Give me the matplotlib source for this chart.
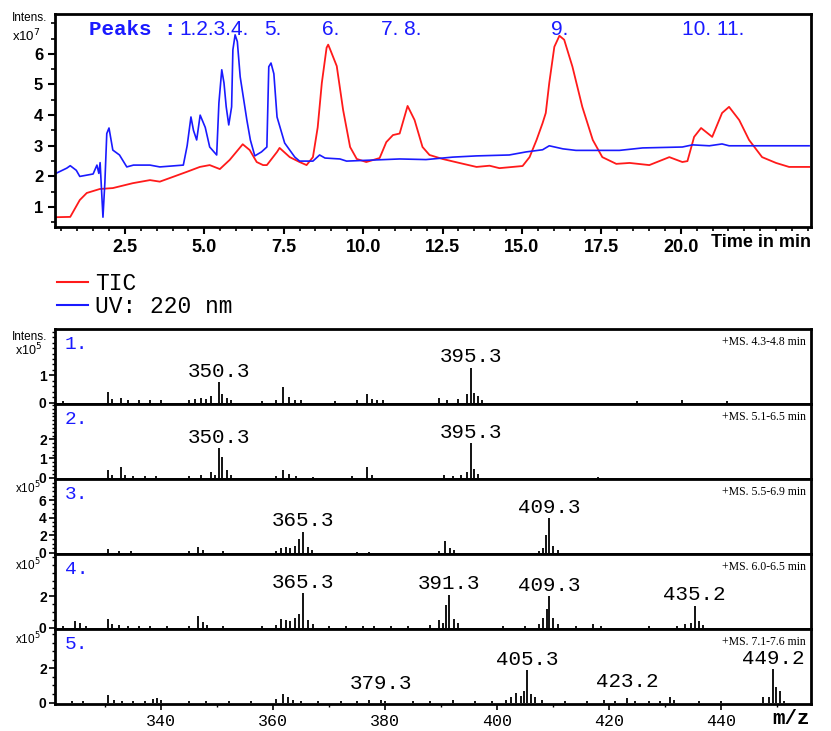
import matplotlib
matplotlib.use('Agg')
import matplotlib.pyplot as plt
from matplotlib.lines import Line2D
from matplotlib.ticker import MultipleLocator
import numpy as np

# chromatogram traces (time in min, intensity x10^7)
tic_time = [0.35, 0.78, 1.08, 1.30, 1.71, 2.12, 2.75, 3.29, 3.60, 4.00, 4.45, 4.86, 5.17, 5.49,
            5.80, 6.21, 6.43, 6.65, 6.85, 6.97, 7.29, 7.37, 7.69, 8.00, 8.22, 8.42, 8.57, 8.70,
            8.85, 8.90, 8.96, 9.17, 9.37, 9.59, 9.80, 10.10, 10.52, 10.73, 10.94, 11.15, 11.40,
            11.62, 11.87, 12.09, 12.50, 13.03, 13.57, 13.98, 14.29, 15.02, 15.24, 15.46, 15.65,
            15.75, 15.86, 16.02, 16.18, 16.33, 16.59, 16.90, 17.23, 17.53, 17.97, 18.39, 19.01,
            19.64, 20.05, 20.21, 20.42, 20.64, 20.99, 21.30, 21.52, 21.84, 22.15, 22.56, 23.00,
            23.41, 24.04]
tic_int = [0.67, 0.68, 1.23, 1.46, 1.59, 1.62, 1.78, 1.88, 1.83, 1.98, 2.15, 2.31, 2.37, 2.24,
           2.54, 3.05, 2.86, 2.47, 2.37, 2.37, 2.80, 2.93, 2.63, 2.47, 2.37, 2.63, 3.60, 5.05,
           6.20, 6.30, 6.15, 5.60, 4.17, 2.96, 2.57, 2.47, 2.60, 3.12, 3.35, 3.40, 4.30,
           3.84, 2.96, 2.70, 2.57, 2.44, 2.31, 2.35, 2.27, 2.34, 2.63, 3.19, 3.74,
           4.07, 5.05, 6.23, 6.59, 6.46, 5.58, 4.27, 3.19, 2.63, 2.41, 2.44, 2.37,
           2.63, 2.47, 2.50, 3.29, 3.58, 3.29, 4.07, 4.27, 3.84, 3.19, 2.63, 2.44,
           2.31, 2.31]

uv_time = [0.35, 0.67, 0.78, 0.97, 1.08, 1.50, 1.62, 1.68, 1.72, 1.81, 1.87, 1.93, 2.00, 2.12,
           2.33, 2.56, 2.77, 3.29, 3.60, 4.34, 4.46, 4.58, 4.66, 4.76, 4.87, 5.03, 5.17, 5.39,
           5.46, 5.55, 5.62, 5.69, 5.77, 5.86, 5.90, 5.97, 6.04, 6.13, 6.34, 6.45, 6.59, 6.80,
           6.97, 7.03, 7.10, 7.19, 7.29, 7.53, 7.85, 8.00, 8.42, 8.63, 8.80, 9.27, 9.48, 11.15,
           11.98, 12.82, 13.57, 14.60, 15.13, 15.65, 15.86, 16.29, 16.70, 18.07, 18.80, 20.05,
           20.37, 20.90, 21.30, 21.52, 24.04]
uv_int = [2.11, 2.27, 2.35, 2.20, 2.00, 2.08, 2.37, 2.10, 2.45, 0.67, 1.80, 3.40, 3.58, 2.86,
          2.70, 2.31, 2.37, 2.37, 2.31, 2.37, 3.00, 3.94, 3.50, 3.19, 4.00, 3.60, 2.96, 2.70,
          4.40, 5.48, 5.05, 4.27, 3.68, 4.27, 6.13, 6.62, 6.40, 5.25, 3.84, 3.19, 2.67, 2.80,
          2.96, 5.58, 5.70, 5.35, 3.94, 3.09, 2.63, 2.50, 2.50, 2.70, 2.60, 2.57, 2.50, 2.57,
          2.55, 2.63, 2.67, 2.70, 2.80, 2.87, 3.00, 2.90, 2.85, 2.85, 2.93, 2.96,
          3.03, 3.00, 3.06, 3.00, 3.00]

peak_names = ["1.2.3.4.", "5.", "6.", "7. 8.", "9.", "10. 11."]
peak_name_time = [4.23, 6.9, 8.7, 10.55, 15.93, 20.05]

# mass spectra (m/z, intensity x10^5)
mz_1 = [322.5, 330.4, 331.2, 332.7, 334, 336, 338, 340, 345, 346, 347, 348, 348.9, 350.3, 350.8,
        351.7, 352.5, 358, 360.5, 361.8, 362.8, 363.8, 365, 371, 375, 376.8, 377.6, 378.5, 379.5,
        389.5, 391, 393, 394.5, 395.3, 395.8, 396.5, 397.3, 425, 433, 441]
int_1 = [0.05, 0.38, 0.12, 0.18, 0.08, 0.08, 0.08, 0.08, 0.1, 0.12, 0.15, 0.12, 0.25, 0.75, 0.3,
         0.15, 0.08, 0.05, 0.1, 0.57, 0.2, 0.1, 0.08, 0.05, 0.08, 0.3, 0.12, 0.1, 0.08,
         0.15, 0.1, 0.12, 0.3, 1.28, 0.35, 0.25, 0.1, 0.05, 0.08, 0.05]

mz_2 = [330.4, 331.2, 332.7, 333.5, 335, 337, 339, 345, 347, 348.9, 349.6, 350.3, 350.9, 351.7,
        352.5, 360.5, 361.8, 362.8, 364, 367, 374, 376.8, 377.6, 390.5, 392, 393.5, 394.5, 395.3,
        395.9, 396.6, 418]
int_2 = [0.38, 0.15, 0.55, 0.12, 0.08, 0.08, 0.08, 0.08, 0.12, 0.3, 0.15, 1.55, 1.05, 0.4,
         0.15, 0.1, 0.4, 0.2, 0.08, 0.05, 0.08, 0.55, 0.15, 0.15, 0.1, 0.12, 0.3, 1.8,
         0.45, 0.2, 0.05]

mz_3 = [330.4, 332.5, 334.5, 345, 346.6, 347.4, 351, 360.5, 361.4, 362.2, 363, 363.8, 364.5,
        365.3, 366.1, 366.9, 375, 377, 389.5, 390.7, 391.5, 392.3, 407.5, 408.2, 408.7, 409.3,
        410, 410.8]
int_3 = [0.35, 0.15, 0.15, 0.15, 0.6, 0.3, 0.15, 0.2, 0.5, 0.6, 0.5, 0.7, 1.5,
         2.4, 0.6, 0.3, 0.1, 0.1, 0.15, 1.3, 0.5, 0.3, 0.2, 0.5, 2.0, 3.9,
         0.8, 0.3]

mz_4 = [322.5, 324.6, 325.4, 326.5, 330.4, 331.2, 332.5, 334, 336, 338, 341, 345, 346.6, 347.4,
        348.2, 351, 358, 360.5, 361.4, 362.2, 363, 363.8, 364.5, 365.3, 366.1, 367, 370, 373,
        376, 378, 381, 384, 388, 389.5, 390.3, 390.8, 391.3, 392.2, 393, 401, 405, 407.5,
        408.2, 408.8, 409.3, 410, 410.8, 414, 417, 418.5, 427, 432, 433.5, 434.5, 435.2, 436,
        436.8]
int_4 = [0.1, 0.4, 0.3, 0.1, 0.55, 0.2, 0.15, 0.1, 0.1, 0.1, 0.1, 0.1, 0.75, 0.35,
         0.15, 0.1, 0.1, 0.15, 0.55, 0.5, 0.4, 0.6, 0.85, 2.2, 0.5, 0.2, 0.08, 0.08,
         0.08, 0.08, 0.1, 0.08, 0.15, 0.5, 0.3, 1.45, 2.1, 0.55, 0.3, 0.08, 0.1, 0.2,
         0.6, 1.2, 2.0, 0.6, 0.2, 0.1, 0.2, 0.1, 0.08, 0.1, 0.2, 0.3, 1.4, 0.4,
         0.15]

mz_5 = [324, 326, 330.4, 331.5, 333, 335, 337, 338.5, 339.3, 340, 345, 348, 352, 356, 360.5,
        361.8, 362.6, 363.5, 365, 368, 372, 375, 377, 379.3, 380, 385, 388, 392, 396, 399,
        401.5, 402.5, 403.3, 404.2, 404.8, 405.3, 406, 406.8, 408, 412, 416, 419, 421, 423.2,
        424.5, 427, 429, 430.8, 431.5, 436, 440, 447.5, 448.5, 449.2, 449.8, 450.4, 451.2]
int_5 = [0.1, 0.08, 0.45, 0.15, 0.1, 0.1, 0.08, 0.2, 0.25, 0.12, 0.08, 0.08, 0.08, 0.08, 0.2,
         0.5, 0.3, 0.15, 0.1, 0.08, 0.08, 0.08, 0.15, 0.12, 0.1, 0.08, 0.08, 0.12, 0.1, 0.08,
         0.15, 0.3, 0.55, 0.4, 0.7, 1.9, 0.5, 0.3, 0.15, 0.08, 0.08, 0.15, 0.1, 0.25,
         0.1, 0.08, 0.1, 0.3, 0.15, 0.08, 0.08, 0.3, 0.35, 1.95, 0.9, 0.7, 0.1]

labels_1 = [350.3, 395.3]
labels_2 = [350.3, 395.3]
labels_3 = [365.3, 409.3]
labels_4 = [365.3, 391.3, 409.3, 435.2]
labels_5 = [379.3, 405.3, 423.2, 449.2]

scan_ranges = ["+MS. 4.3-4.8 min", "+MS. 5.1-6.5 min", "+MS. 5.5-6.9 min",
               "+MS. 6.0-6.5 min", "+MS. 7.1-7.6 min"]
mz_ticks = [340, 360, 380, 400, 420, 440]

BLUE = '#1a1aff'
RED = '#ff1a1a'
MONO = 'Liberation Mono'
SANS = 'Liberation Sans'
W, H = 831, 731

fig = plt.figure(figsize=(W / 100, H / 100), dpi=100)

# ---- chromatogram ----
ax = fig.add_axes([55 / W, 1 - 227 / H, 756 / W, 213 / H])
ax.plot(tic_time, tic_int, color=RED, lw=1.3)
ax.plot(uv_time, uv_int, color=BLUE, lw=1.2)
ax.set_xlim(0.3, 24.1)
ax.set_ylim(0.35, 7.3)
ax.set_xticks([2.5, 5.0, 7.5, 10.0, 12.5, 15.0, 17.5, 20.0])
ax.set_xticklabels(["2.5", "5.0", "7.5", "10.0", "12.5", "15.0", "17.5", "20.0"])
ax.xaxis.set_minor_locator(MultipleLocator(0.5))
ax.set_yticks([1, 2, 3, 4, 5, 6])
ax.yaxis.set_minor_locator(MultipleLocator(0.5))
ax.tick_params(axis='both', which='major', length=5, width=1.5)
ax.tick_params(axis='both', which='minor', length=3, width=1.2)
ax.tick_params(axis='x', labelsize=13)
ax.tick_params(axis='y', labelsize=12)
for lab in ax.get_xticklabels() + ax.get_yticklabels():
    lab.set_fontweight('bold')
    lab.set_fontfamily(SANS)
for sp in ax.spines.values():
    sp.set_linewidth(2)
ax.text(20.95, -0.075, "Time in min", transform=ax.get_xaxis_transform(),
        ha='left', va='center', fontsize=13, fontweight='bold', fontfamily=SANS)
ax.text(1.37, 0.925, "Peaks :", transform=ax.get_xaxis_transform(), ha='left', va='center',
        color=BLUE, fontsize=15, fontweight='bold', fontfamily=MONO)
for name, t in zip(peak_names, peak_name_time):
    ax.text(t, 0.925, name, transform=ax.get_xaxis_transform(), ha='left', va='center',
            color=BLUE, fontsize=15, fontfamily=SANS)
fig.text(12 / W, 1 - 18 / H, "Intens.", fontsize=8.5, fontfamily=SANS, va='center')
fig.text(12 / W, 1 - 36 / H, "x10$^7$", fontsize=9.5, fontfamily=SANS, va='center')

handles = [Line2D([], [], color=RED, lw=1.5), Line2D([], [], color=BLUE, lw=1.5)]
fig.legend(handles, ["TIC", "UV: 220 nm"], loc='upper left',
           bbox_to_anchor=(57 / W, 1 - 272 / H), frameon=False, handlelength=1.35,
           handletextpad=0.3, labelspacing=0.0, borderpad=0, borderaxespad=0,
           prop={'family': MONO, 'size': 16.5})

# ---- mass spectra ----
spectra = [(mz_1, int_1, labels_1), (mz_2, int_2, labels_2), (mz_3, int_3, labels_3),
           (mz_4, int_4, labels_4), (mz_5, int_5, labels_5)]
ymax = [2.7, 3.85, 8.4, 4.7, 4.3]
yticks = [[0, 1], [0, 1, 2], [0, 2, 4, 6], [0, 2], [0, 2]]
yminor = [0.2, 0.2, 0.5, 0.5, 0.5]
label_floor = {379.3: 0.45, 423.2: 0.6}

for i, (mz, inten, labels) in enumerate(spectra):
    top = 329 + 75 * i
    sax = fig.add_axes([55 / W, 1 - (top + 75) / H, 756 / W, 75 / H])
    sax.vlines(mz, 0, inten, color='k', lw=1.3)
    sax.set_xlim(321, 456)
    sax.set_ylim(-0.02 * ymax[i], ymax[i])
    sax.set_yticks(yticks[i])
    sax.yaxis.set_minor_locator(MultipleLocator(yminor[i]))
    sax.tick_params(axis='y', which='major', length=4, width=1.2, labelsize=10, pad=2)
    sax.tick_params(axis='y', which='minor', length=2.5, width=1)
    for lab in sax.get_yticklabels():
        lab.set_fontweight('bold')
        lab.set_fontfamily(SANS)
    for sp in sax.spines.values():
        sp.set_linewidth(2)
    if i < 4:
        sax.tick_params(axis='x', which='both', length=0, labelbottom=False)
    else:
        sax.set_xticks(mz_ticks)
        sax.xaxis.set_minor_locator(MultipleLocator(10))
        sax.tick_params(axis='x', which='major', length=4, width=1.2, pad=3, labelsize=12)
        sax.tick_params(axis='x', which='minor', length=2.5, width=1)
        for lab in sax.get_xticklabels():
            lab.set_fontfamily(MONO)
        sax.text(452.5, -0.19, "m/z", transform=sax.get_xaxis_transform(), ha='center',
                 va='center', fontsize=15, fontweight='bold', fontfamily=MONO)
    for lm in labels:
        k = int(np.argmin(np.abs(np.array(mz) - lm)))
        y = max(inten[k], label_floor.get(lm, 0))
        sax.annotate(f"{lm:.1f}", xy=(lm, y), xytext=(0, 1), textcoords='offset points',
                     ha='center', va='bottom', fontsize=15, fontfamily=MONO)
    sax.text(0.013, 0.79, f"{i + 1}.", transform=sax.transAxes, ha='left', va='center',
             color=BLUE, fontsize=14, fontfamily=MONO)
    sax.text(0.993, 0.83, scan_ranges[i], transform=sax.transAxes, ha='right', va='center',
             fontsize=8.5, fontfamily='Liberation Serif')

fig.text(12 / W, 1 - 337 / H, "Intens.", fontsize=8.5, fontfamily=SANS, va='center')
fig.text(15 / W, 1 - 350 / H, "x10$^5$", fontsize=9, fontfamily=SANS, va='center')
for yy in [488, 565, 639]:
    fig.text(15 / W, 1 - yy / H, "x10$^5$", fontsize=8.5, fontfamily=SANS, va='center')

fig.savefig('out.png', dpi=100)
